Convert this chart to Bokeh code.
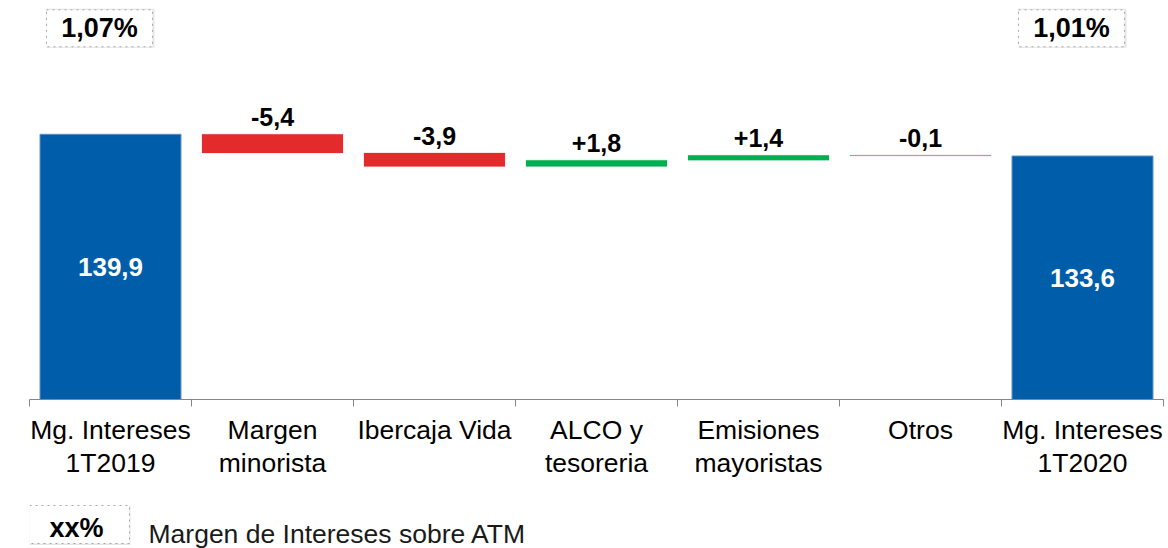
from bokeh.plotting import figure
from bokeh.layouts import column
from bokeh.models import Range1d, FixedTicker, ColumnDataSource
from bokeh.transform import dodge
from bokeh.core.properties import value
from bokeh.embed import file_html
from bokeh.resources import INLINE

# ---- data -------------------------------------------------------------
categories = [
    "Mg. Intereses\n1T2019",
    "Margen\nminorista",
    "Ibercaja Vida",
    "ALCO y\ntesoreria",
    "Emisiones\nmayoristas",
    "Otros",
    "Mg. Intereses\n1T2020",
]
changes = [139.9, -5.4, -3.9, 1.8, 1.4, -0.1, 133.6]
ratio_labels = ["1,07%", "1,01%"]
legend_sample = "xx%"
legend_text = "Margen de Intereses sobre ATM"

# ---- styling ----------------------------------------------------------
FONT = "Liberation Sans"
BLUE = "#005DAA"
RED = "#E32B2B"
GREEN = "#00B050"
AXIS_GREY = "#868686"
LEFT, RIGHT = 29, 5           # side borders shared by both panels
WIDTH = 1168

Y0, Y1 = 63.0, 178.7          # value axis window (bars start at the break)
PX = 399.0 / (Y1 - Y0)        # pixels per unit inside the frame

# ---- waterfall geometry -------------------------------------------------
xs = [i + 0.5 for i in range(len(categories))]
bottoms, tops, colors = [], [], []
running = changes[0]
last = len(changes) - 1
for i, v in enumerate(changes):
    if i == 0 or i == last:
        bottoms.append(Y0)
        tops.append(v)
        colors.append(BLUE)
    else:
        start, end = running, running + v
        bottoms.append(min(start, end))
        tops.append(max(start, end))
        colors.append(RED if v < 0 else GREEN)
        running = end

steps = [i for i in range(1, last)]
# a step thinner than one pixel is shown as a faint hairline
px_height = [abs(changes[i]) * PX for i in steps]
fill_a = [1.0 if h >= 1 else h for h in px_height]
edge_a = [0.22 if h >= 1 else h for h in px_height]
step_bars = ColumnDataSource(dict(
    x=[xs[i] for i in steps],
    bottom=[bottoms[i] for i in steps],
    top=[tops[i] for i in steps],
    color=[colors[i] for i in steps],
    fill_a=fill_a,
    edge_a=edge_a,
))
total_bars = ColumnDataSource(dict(
    x=[xs[0], xs[last]],
    bottom=[Y0, Y0],
    top=[changes[0], changes[last]],
))

deltas = ColumnDataSource(dict(
    x=[xs[i] for i in steps],
    y=[tops[i] for i in steps],
    text=[f"{changes[i]:+.1f}".replace(".", ",") for i in steps],
))

totals = ColumnDataSource(dict(
    x=[xs[0], xs[last]],
    y=[(Y0 + changes[0]) / 2, (Y0 + changes[last]) / 2],
    text=[f"{changes[0]:.1f}".replace(".", ","), f"{changes[last]:.1f}".replace(".", ",")],
))

box_y = Y1 - 27.8 / PX
ratios = ColumnDataSource(dict(x=[xs[0], xs[last]], y=[box_y, box_y], text=ratio_labels))

# ---- main chart ---------------------------------------------------------
p = figure(width=WIDTH, height=500, x_range=Range1d(0, len(categories)),
           y_range=Range1d(Y0, Y1), output_backend="svg", toolbar_location=None,
           y_axis_location=None,
           min_border_left=LEFT, min_border_right=RIGHT, min_border_top=0,
           min_border_bottom=101)
p.outline_line_color = None
p.grid.visible = False
p.background_fill_color = "white"
p.border_fill_color = "white"

p.vbar(x="x", bottom="bottom", top="top", width=0.87, source=total_bars,
       fill_color=BLUE, line_color="#5B8FCB", line_width=1)
p.vbar(x="x", bottom="bottom", top="top", width=0.87, source=step_bars,
       fill_color="color", fill_alpha="fill_a", line_color="color",
       line_alpha="edge_a", line_width=1)

p.text(x="x", y="y", text="text", source=deltas, text_align="center",
       text_baseline="middle", y_offset=-17, text_font=value(FONT),
       text_font_style="bold", text_font_size="25px", text_color="black")
p.text(x="x", y="y", text="text", source=totals, text_align="center",
       text_baseline="middle", text_font=value(FONT), text_font_style="bold",
       text_font_size="26px", text_color="white")

# ratio boxes above the first and last columns
p.rect(x=dodge("x", -0.062, range=p.x_range), y="y", source=ratios, width=108, height=39,
       width_units="screen", height_units="screen", fill_color="#DADADA",
       fill_alpha=0.7, line_color=None)
p.rect(x=dodge("x", -0.068, range=p.x_range), y="y", source=ratios, width=106, height=37,
       width_units="screen", height_units="screen", fill_color="white",
       line_color="#A6A6A6", line_dash="dotted", line_width=1)
p.text(x=dodge("x", -0.068, range=p.x_range), y="y", text="text", source=ratios,
       text_align="center", text_baseline="middle", text_font=value(FONT),
       text_font_style="bold", text_font_size="27px", text_color="black")

ax = p.xaxis[0]
ax.ticker = FixedTicker(ticks=xs, minor_ticks=list(range(len(categories) + 1)))
ax.major_label_overrides = {x: c for x, c in zip(xs, categories)}
ax.major_tick_in = 0
ax.major_tick_out = 0
ax.minor_tick_in = 0
ax.minor_tick_out = 7
ax.minor_tick_line_color = AXIS_GREY
ax.axis_line_color = AXIS_GREY
ax.major_label_standoff = 8
ax.major_label_text_font = FONT
ax.major_label_text_font_size = "26.5px"
ax.major_label_text_color = "black"
ax.major_label_text_line_height = 1.1

# ---- legend strip (coordinates in page pixels) --------------------------
q = figure(width=WIDTH, height=48, x_range=Range1d(LEFT, WIDTH - RIGHT),
           y_range=Range1d(48, 0), output_backend="svg", toolbar_location=None,
           min_border_left=LEFT, min_border_right=RIGHT, min_border_top=0,
           min_border_bottom=0, x_axis_location=None, y_axis_location=None)
q.outline_line_color = None
q.grid.visible = False
q.rect(x=[77], y=[25], width=106, height=39, fill_color="#DADADA", fill_alpha=0.7,
       line_color=None)
q.rect(x=[76], y=[24], width=106, height=38, fill_color="white",
       line_color="#A6A6A6", line_dash="dotted", line_width=1)
q.text(x=[76], y=[27], text=[legend_sample], text_align="center",
       text_baseline="middle", text_font=value(FONT), text_font_style="bold",
       text_font_size="27px", text_color="black")
q.text(x=[148], y=[33], text=[legend_text], text_align="left",
       text_baseline="middle", text_font=value(FONT), text_font_size="26.5px",
       text_color="#1A1A1A")

layout = column(p, q, spacing=0)
open("out.html", "w").write(file_html(layout, INLINE))
